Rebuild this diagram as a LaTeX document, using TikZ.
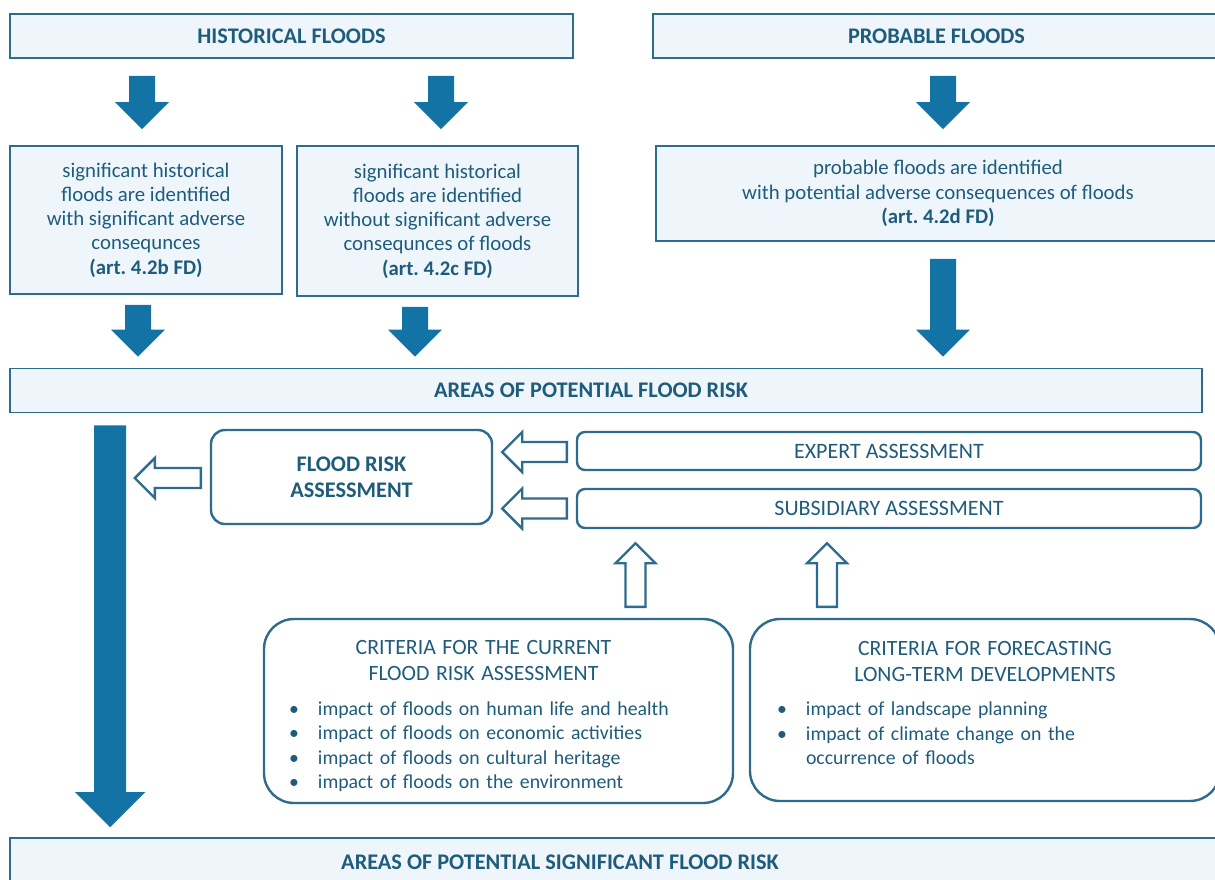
\documentclass[tikz,border=0pt]{standalone}
\usepackage{fontspec}
\setmainfont{Carlito}
\usepackage{tikz}
\usetikzlibrary{calc,positioning}

\definecolor{textblue}{HTML}{1F5C7C}
\definecolor{frameblue}{HTML}{2D6C8C}
\definecolor{arrowblue}{HTML}{1373A5}
\definecolor{paleblue}{HTML}{EEF6FC}

\newcommand{\critem}[1]{\par\noindent\makebox[29pt][l]{\textbullet}#1}
\newcommand{\crittitle}{\fontsize{21.8}{26}\selectfont}

\tikzset{
  blockarrow/.style n args={3}{to path={let \p1=(\tikztostart), \p2=(\tikztotarget),
      \n1={atan2(\y2-\y1,\x2-\x1)}, \n2={veclen(\x2-\x1,\y2-\y1)} in
      ([shift={(\p1)},rotate=\n1]0pt,#1)
      -- ([shift={(\p1)},rotate=\n1]{\n2*1pt-#3},#1)
      -- ([shift={(\p1)},rotate=\n1]{\n2*1pt-#3},#2)
      -- ([shift={(\p1)},rotate=\n1]{\n2*1pt},0pt)
      -- ([shift={(\p1)},rotate=\n1]{\n2*1pt-#3},-#2)
      -- ([shift={(\p1)},rotate=\n1]{\n2*1pt-#3},-#1)
      -- ([shift={(\p1)},rotate=\n1]0pt,-#1) -- cycle}},
  fatarrow/.style={fill=arrowblue, blockarrow={13pt}{27pt}{27pt}},
  bigarrow/.style={fill=arrowblue, blockarrow={16pt}{35pt}{35pt}},
  hollowarrow/.style={draw=frameblue, line width=2.4pt, fill=white, line join=miter,
      blockarrow={10pt}{20pt}{20pt}}
}

\begin{document}
\frenchspacing
\begin{tikzpicture}[x=1pt,y=-1pt]
        \tikzstyle{headbox}=[draw=frameblue, line width=1.6pt, fill=paleblue, text=textblue,
            minimum height=44pt, font=\bfseries\fontsize{22.3}{24}\selectfont]
        \tikzstyle{hlabel}=[text=textblue, font=\bfseries\fontsize{22.3}{24}\selectfont]
        \tikzstyle{infobox}=[draw=frameblue, line width=1.6pt, fill=paleblue, text=textblue,
            align=center, font=\fontsize{20.8}{24.3}\selectfont]
        \tikzstyle{roundbox}=[draw=frameblue, line width=2.4pt, fill=white, text=textblue,
            font=\fontsize{22}{24}\selectfont]
        \useasboundingbox (0,0) rectangle (1215,879);

        % sources
        \node[headbox, minimum width=563pt] (hist) at (291.5,36) {HISTORICAL FLOODS};
        \node[headbox, minimum width=567pt] (prob) at (936.5,36) {PROBABLE FLOODS};

        \node[infobox, minimum width=272pt, minimum height=148pt] (sigA) at (146,220)
            {significant historical\\floods are identified\\with significant adverse\\consequnces\\\textbf{(art. 4.2b FD)}};
        \node[infobox, minimum width=281pt, minimum height=150pt] (sigB) at (437.5,221)
            {significant historical\\floods are identified\\without significant adverse\\consequnces of floods\\\textbf{(art. 4.2c FD)}};
        \node[infobox, minimum width=564pt, minimum height=95pt] (probC) at (938,193.5)
            {probable floods are identified\\with potential adverse consequences of floods\\\textbf{(art. 4.2d FD)}};

        \node[headbox, minimum width=1192pt,
            label={[hlabel, xshift=-15pt]center:AREAS OF POTENTIAL FLOOD RISK}] (apfr) at (606,390.5) {};

        % assessment
        \node[roundbox, rounded corners=14pt, minimum width=281pt, minimum height=94pt,
            align=center, font=\bfseries\fontsize{22.3}{26}\selectfont] (fra) at (351.5,477) {FLOOD RISK\\ASSESSMENT};
        \node[roundbox, rounded corners=8pt, minimum width=624pt, minimum height=38pt] (expert) at (889,451) {EXPERT ASSESSMENT};
        \node[roundbox, rounded corners=8pt, minimum width=624pt, minimum height=39pt] (subs) at (889,508.5) {SUBSIDIARY ASSESSMENT};

        \node[roundbox, rounded corners=30pt, minimum width=469pt, minimum height=184pt,
            text width=419pt, align=left, font=\fontsize{19.8}{24.2}\selectfont] (crit1) at (498.5,711)
            {{\centering\crittitle\hspace*{-30pt}CRITERIA FOR THE CURRENT\\\hspace*{-30pt}FLOOD RISK ASSESSMENT\par}\vspace{11pt}
             \critem{impact of floods on human life and health}
             \critem{impact of floods on economic activities}
             \critem{impact of floods on cultural heritage}
             \critem{impact of floods on the environment}\par\vspace{-10pt}};
        \node[roundbox, rounded corners=30pt, minimum width=470pt, minimum height=182pt,
            text width=416pt, align=left, font=\fontsize{19.8}{24.4}\selectfont] (crit2) at (985,710)
            {{\centering\crittitle CRITERIA FOR FORECASTING\\LONG-TERM DEVELOPMENTS\par}\vspace{10pt}
             \critem{impact of landscape planning}
             \critem{impact of climate change on the}
             \par\noindent\hspace*{29pt}occurrence of floods\par\vspace{14pt}};

        \node[headbox, minimum width=1210pt, minimum height=48pt,
            label={[hlabel, xshift=-55pt]center:AREAS OF POTENTIAL SIGNIFICANT FLOOD RISK}] (apsfr) at (615,862) {};

        % solid arrows
        \fill[fatarrow] ($(hist.south -| sigA.north)+(-4,17)$) to ($(sigA.north)+(-4,-16)$);
        \fill[fatarrow] ($(hist.south -| sigB.north)+(3.5,17)$) to ($(sigB.north)+(3.5,-16)$);
        \fill[fatarrow] ($(prob.south -| probC.north)+(5,17)$) to ($(probC.north)+(5,-16)$);
        \fill[fatarrow] ($(sigA.south)+(-8,10)$) to ($(sigA.south |- apfr.north)+(-8,-11)$);
        \fill[fatarrow] ($(sigB.south)+(-22.5,10)$) to ($(sigB.south |- apfr.north)+(-22.5,-11)$);
        \fill[fatarrow] ($(probC.south)+(5,17)$) to ($(probC.south |- apfr.north)+(5,-11)$);
        \fill[bigarrow] ($(apfr.south west)+(101,12)$) to ($(apfr.south west |- apsfr.north)+(101,-10)$);

        % hollow arrows
        \draw[hollowarrow] ($(fra.west)+(-9,1)$) to ($(fra.west)+(-75,1)$);
        \draw[hollowarrow] ($(expert.west)+(-9,1)$) to ($(fra.east |- expert.west)+(9,1)$);
        \draw[hollowarrow] ($(subs.west)+(-9,0)$) to ($(fra.east |- subs.west)+(9,0)$);
        \draw[hollowarrow] ($(crit1.north)+(137,-11)$) to ($(subs.south -| crit1.north)+(137,14)$);
        \draw[hollowarrow] ($(crit2.north)+(-158,-11)$) to ($(subs.south -| crit2.north)+(-158,14)$);
\end{tikzpicture}
\end{document}
